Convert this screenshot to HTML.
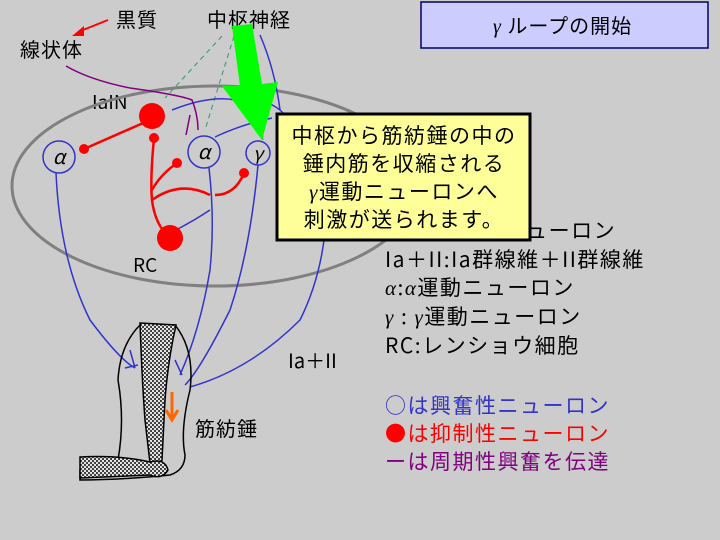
<!DOCTYPE html>
<html><head><meta charset="utf-8"><style>
body{margin:0;background:#cccccc}
svg{display:block}
text{font-family:"Noto Sans CJK JP","Liberation Sans",sans-serif}
</style></head><body>
<svg width="720" height="540" viewBox="0 0 720 540" xmlns="http://www.w3.org/2000/svg">
<defs>
<pattern id="dots" width="4" height="4" patternUnits="userSpaceOnUse">
<rect width="4" height="4" fill="#e8e8e8"/><circle cx="1" cy="1" r="1.1" fill="#333"/><circle cx="3" cy="3" r="1.1" fill="#333"/>
</pattern>
</defs>
<rect width="720" height="540" fill="#cccccc"/>
<rect x="421" y="2" width="287" height="46" fill="#ccccff" stroke="#000066" stroke-width="1.5"/>
<text x="493" y="33" font-size="20" letter-spacing="1"><tspan font-style="italic" font-family="Liberation Serif,serif">γ</tspan> ループの開始</text>
<text x="116" y="27" font-size="20" letter-spacing="1">黒質</text>
<text x="20" y="57" font-size="20" letter-spacing="1">線状体</text>
<text x="207" y="27" font-size="20" letter-spacing="1">中枢神経</text>
<path d="M108 20 L78 32" stroke="#ff0000" stroke-width="2"/>
<polygon points="72,36 84,26 84,36" fill="#ff0000"/>
<text x="92" y="109" font-size="19" font-family="Liberation Sans,sans-serif">IaIN</text>
<text x="133" y="272" font-size="19" font-family="Liberation Sans,sans-serif">RC</text>
<ellipse cx="215" cy="186" rx="203" ry="100" fill="none" stroke="#808080" stroke-width="3"/>
<g stroke="#339966" stroke-width="1" stroke-dasharray="5,4" fill="none">
<path d="M222 36 L165 98"/><path d="M234 36 L205 130"/><path d="M244 40 L263 140"/>
</g>
<g stroke="#3333cc" stroke-width="1.5" fill="none">
<path d="M56 173 Q60 260 90 320 Q120 360 135 368"/>
<path d="M209 168 Q215 220 210 270 Q200 330 180 375"/>
<path d="M258 165 Q250 250 230 310 Q200 370 185 385"/>
<path d="M325 150 Q335 250 300 320 Q250 370 190 387"/>
<path d="M260 35 Q275 70 280 110 Q300 130 325 150"/>
<path d="M172 110 Q210 95 235 100 Q260 95 280 110"/>
<path d="M215 137 Q240 125 272 118"/>
<path d="M176 230 Q195 220 210 210"/>
<path d="M130 350 L135 368 M125 368 L138 365"/>
<path d="M175 360 L182 375"/>
</g>
<path d="M66 66 Q90 80 130 88 Q180 95 192 100 Q198 115 198 130 M190 115 L186 135" stroke="#800080" stroke-width="1.5" fill="none"/>
<g stroke="#ff0000" stroke-width="2.5" fill="none">
<path d="M84 149 L150 120"/>
<path d="M154 138 Q150 180 152 200 Q155 225 170 238"/>
<path d="M152 190 Q160 175 177 163"/>
<path d="M152 200 Q180 180 210 195"/>
<path d="M215 195 Q235 195 244 173"/>
</g>
<g fill="#ff0000">
<circle cx="152" cy="116" r="13"/><circle cx="170" cy="238" r="13"/>
<circle cx="84" cy="149" r="5"/><circle cx="154" cy="138" r="5"/>
<circle cx="177" cy="163" r="5"/><circle cx="244" cy="173" r="5"/>
</g>
<g fill="none" stroke="#3333cc" stroke-width="1.5">
<circle cx="59" cy="157" r="16"/><circle cx="204" cy="152" r="16"/><circle cx="258" cy="153" r="12"/>
</g>
<text x="59" y="164" font-size="20" font-style="italic" text-anchor="middle" font-family="Liberation Serif,serif">α</text>
<text x="204" y="159" font-size="20" font-style="italic" text-anchor="middle" font-family="Liberation Serif,serif">α</text>
<text x="258" y="160" font-size="18" font-style="italic" text-anchor="middle" font-family="Liberation Serif,serif">γ</text>
<path d="M80 470 Q90 460 118 460 Q125 420 118 380 Q120 345 140 325 L175 325 Q195 350 190 390 Q180 430 185 455 Q185 470 170 475 Q120 480 80 480 Z" fill="none" stroke="#000" stroke-width="1.5"/>
<path d="M140 323 L176 325 Q168 360 165 400 L162 460 Q160 470 150 463 L145 420 Q142 380 140 323 Z" fill="url(#dots)" stroke="#000" stroke-width="1.5"/>
<path d="M80 457 Q120 455 150 462 Q165 458 168 470 Q162 480 150 475 L80 478 Z" fill="url(#dots)" stroke="#000" stroke-width="1.5"/>
<path d="M172 392 L172 420 M166 410 L172 420 L178 410" stroke="#ff6600" stroke-width="3" fill="none"/>
<text x="195" y="436" font-size="20" letter-spacing="1">筋紡錘</text>
<text x="288" y="368" font-size="20">Ia＋II</text>
<polygon points="232,26 252,24 262,84 278,82 262,140 222,86 240,86" fill="#00ff00"/>
<g font-size="21" letter-spacing="1.5">
<text x="385" y="238">IaIN:Ia抑制ニューロン</text>
<text x="385" y="267">Ia＋II:Ia群線維＋II群線維</text>
<text x="385" y="295"><tspan font-style="italic" font-family="Liberation Serif,serif">α</tspan>:<tspan font-style="italic" font-family="Liberation Serif,serif">α</tspan>運動ニューロン</text>
<text x="385" y="324"><tspan font-style="italic" font-family="Liberation Serif,serif">γ</tspan> : <tspan font-style="italic" font-family="Liberation Serif,serif">γ</tspan>運動ニューロン</text>
<text x="385" y="353">RC:レンショウ細胞</text>
<text x="385" y="413" fill="#3333cc">○は興奮性ニューロン</text>
<text x="385" y="441" fill="#ff0000">●は抑制性ニューロン</text>
<text x="385" y="469" fill="#800080">ーは周期性興奮を伝達</text>
</g>
<rect x="277" y="114" width="253" height="126" fill="#ffff99" stroke="#000" stroke-width="3"/>
<g font-size="21" text-anchor="middle" letter-spacing="1.5">
<text x="404" y="143">中枢から筋紡錘の中の</text>
<text x="404" y="171">錘内筋を収縮される</text>
<text x="404" y="199"><tspan font-style="italic" font-family="Liberation Serif,serif">γ</tspan>運動ニューロンへ</text>
<text x="404" y="227">刺激が送られます。</text>
</g>
</svg>
</body></html>
